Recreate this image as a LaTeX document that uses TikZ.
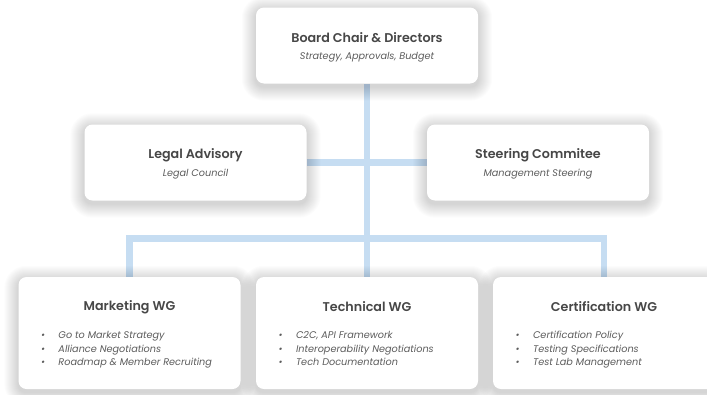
\documentclass[tikz,border=0pt]{standalone}
\usepackage{fontspec}
\setmainfont{Poppins}[BoldFont={Poppins SemiBold}]
\usetikzlibrary{positioning}
\definecolor{linkblue}{HTML}{C6DDF2}
\definecolor{headgray}{HTML}{474747}
\definecolor{subgray}{HTML}{5C5C5C}
\pgfdeclarelayer{background}
\pgfdeclarelayer{shadow}
\pgfsetlayers{background,shadow,main}
% soft shadow round a card, built from thin rings
\newcommand\cardshadow[1]{%
  \begin{pgfonlayer}{shadow}
  \foreach \r in {1,...,14}
    \fill[black,opacity=0.012,rounded corners={8pt+\r pt}] ([shift={(-\r,-\r-3)}]#1.south west) rectangle ([shift={(\r,\r-3)}]#1.north east);
  \end{pgfonlayer}}

\begin{document}
\begin{tikzpicture}[x=1pt,y=1pt,
  card/.style={fill=white,rounded corners=8pt,minimum width=222pt,inner sep=0pt},
  head/.style={font=\bfseries\fontsize{12.7}{15}\selectfont,text=headgray},
  sub/.style={font=\itshape\fontsize{9.7}{11}\selectfont,text=subgray},
  item/.style={sub,anchor=west,inner sep=0pt,text height=7pt,text depth=2pt},
  link/.style={draw=linkblue,line width=6.5pt}]
\useasboundingbox (0,0) rectangle (707,-394);
% board and advisory boxes
\foreach \n/\x/\y/\t/\s in {board/367/45.5/Board Chair \& Directors/{Strategy, Approvals, Budget},
    legal/195.5/162.5/Legal Advisory/Legal Council, steer/538/162.5/Steering Commitee/Management Steering}
{
  \node[card,minimum height=76pt] (\n) at (\x,-\y) {};
  \cardshadow{\n}
  \node[head] (\n-t) at ([yshift=7.5pt]\n.center) {\t};
  \node[sub] (\n-s) at ([yshift=-11.5pt]\n.center) {\s};
}
% working groups
\foreach \n/\x/\t/\items in {mkt/129.5/Marketing WG/{Go to Market Strategy, Alliance Negotiations, Roadmap \& Member Recruiting},
    tech/367/Technical WG/{C2C{,} API Framework, Interoperability Negotiations, Tech Documentation},
    cert/604/Certification WG/{Certification Policy, Testing Specifications, Test Lab Management}}
{
  \node[card,minimum height=112pt] (\n) at (\x,-333) {};
  \cardshadow{\n}
  \node[head] (\n-t) at ([yshift=26pt]\n.center) {\t};
  \foreach \i [count=\k] in \items
    \node[item] (\n-\k) at ([xshift=22.5pt,yshift={-3pt-13.5pt*(\k-1)}]\n.west) {\makebox[17.5pt][l]{\textbullet}\i};
}
\begin{pgfonlayer}{background}
\fill[white] (0,0) rectangle (707,-394);
\coordinate (bus) at (367,-238.5);
\draw[link] (board) -- (tech);
\draw[link] (legal) -- (steer);
\draw[link] (mkt) |- (bus) -| (cert);
\end{pgfonlayer}
\end{tikzpicture}
\end{document}
